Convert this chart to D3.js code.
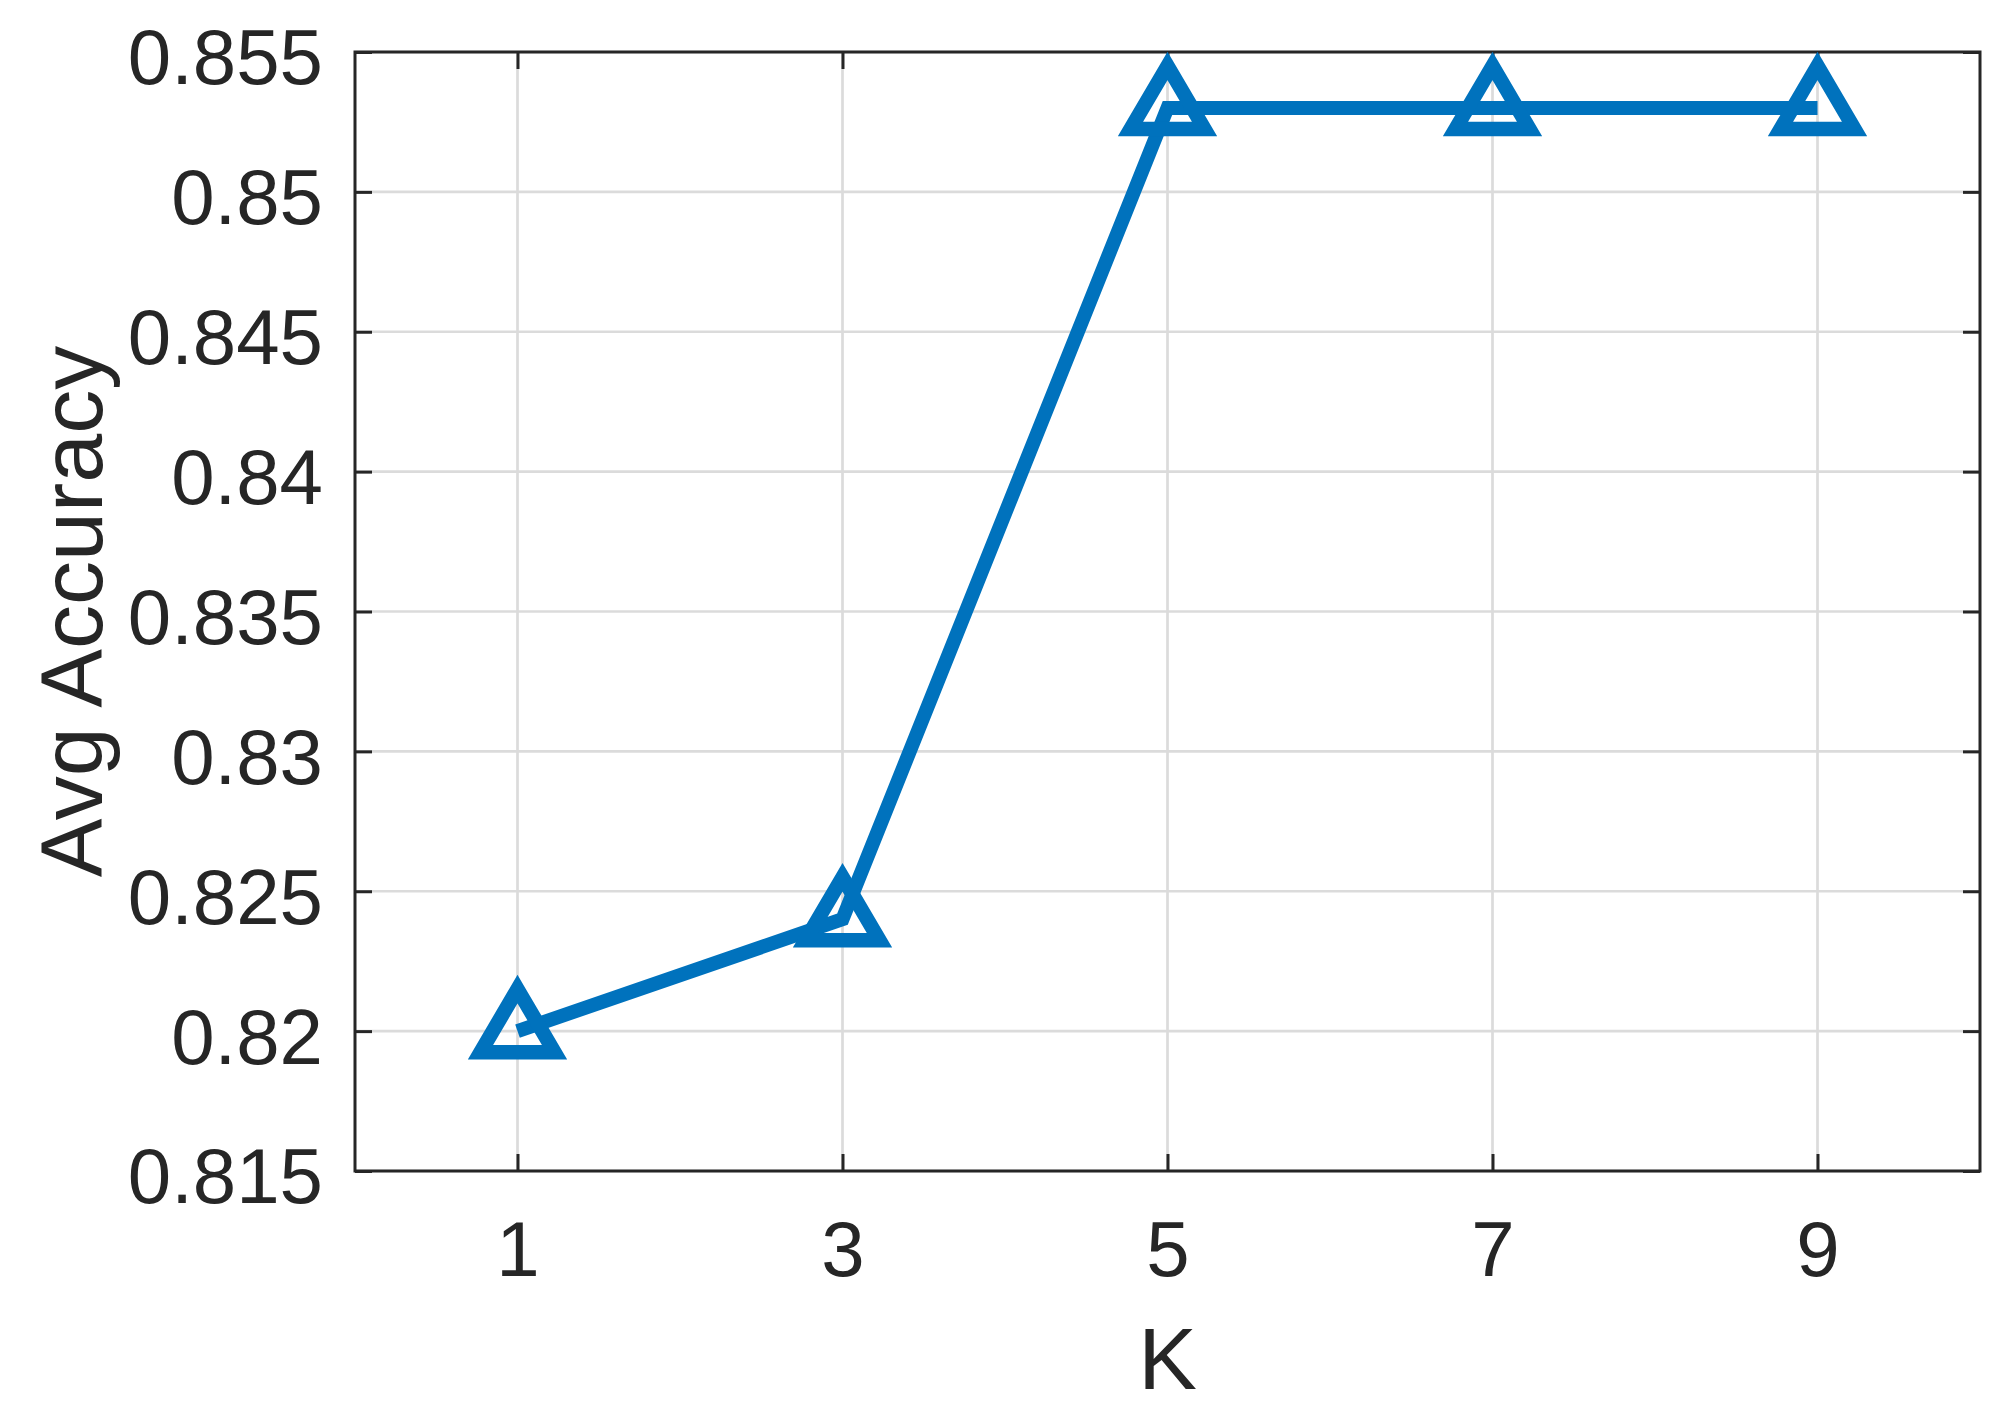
<!DOCTYPE html>
<html>
<head>
<meta charset="utf-8">
<script src="https://cdn.jsdelivr.net/npm/d3@7"></script>
<style>
  body { margin: 0; background: #fff; }
  text { font-family: "Liberation Sans", Arial, sans-serif; fill: #262626; }
</style>
</head>
<body>
<script>
// values
var kValues = [1, 3, 5, 7, 9];
var accValues = [0.8200, 0.8240, 0.8530, 0.8530, 0.8530];

var xTicks = [1, 3, 5, 7, 9];
var yTicks = [0.815, 0.82, 0.825, 0.83, 0.835, 0.84, 0.845, 0.85, 0.855];

var xLabel = "K";
var yLabel = "Avg Accuracy";

// dimensions (window.top is reserved, so plot edges get their own names)
var w = 2006;
var h = 1417;
var plotLeft = 355, plotRight = 1980, plotTop = 52, plotBottom = 1171;
var axisColor = "#262626";
var gridColor = "#dbdbdb";
var lineColor = "#0072BD";
var tickLen = 17;

var xScale = d3.scaleLinear().domain([0, 10]).range([plotLeft, plotRight]);
var yScale = d3.scaleLinear().domain([0.815, 0.855]).range([plotBottom, plotTop]);

var svg = d3.select("body").append("svg")
  .attr("width", w)
  .attr("height", h)
  .style("display", "block");

svg.append("rect").attr("width", w).attr("height", h).attr("fill", "#fff");

// grid
var grid = svg.append("g");
grid.selectAll(".gx")
  .data(xTicks)
  .enter()
  .append("line")
  .attr("x1", function(d) { return xScale(d); })
  .attr("x2", function(d) { return xScale(d); })
  .attr("y1", plotTop)
  .attr("y2", plotBottom)
  .attr("stroke", gridColor)
  .attr("stroke-width", 2.7);

grid.selectAll(".gy")
  .data(yTicks)
  .enter()
  .append("line")
  .attr("x1", plotLeft)
  .attr("x2", plotRight)
  .attr("y1", function(d) { return yScale(d); })
  .attr("y2", function(d) { return yScale(d); })
  .attr("stroke", gridColor)
  .attr("stroke-width", 2.7);

// axes (inward ticks on all four sides)
function fmt(d) { return String(+d.toFixed(3)); }

var xAxis = svg.append("g")
  .attr("transform", "translate(0," + plotBottom + ")")
  .call(d3.axisBottom(xScale).tickValues(xTicks).tickSizeInner(-tickLen).tickSizeOuter(0).tickPadding(50).tickFormat(fmt));

var xAxisTop = svg.append("g")
  .attr("transform", "translate(0," + plotTop + ")")
  .call(d3.axisTop(xScale).tickValues(xTicks).tickSizeInner(-tickLen).tickSizeOuter(0).tickFormat(""));

var yAxis = svg.append("g")
  .attr("transform", "translate(" + plotLeft + ",0)")
  .call(d3.axisLeft(yScale).tickValues(yTicks).tickSizeInner(-tickLen).tickSizeOuter(0).tickPadding(32).tickFormat(fmt));

var yAxisRight = svg.append("g")
  .attr("transform", "translate(" + plotRight + ",0)")
  .call(d3.axisRight(yScale).tickValues(yTicks).tickSizeInner(-tickLen).tickSizeOuter(0).tickFormat(""));

svg.selectAll(".domain").remove();
svg.selectAll(".tick line").attr("stroke", axisColor).attr("stroke-width", 3);
svg.selectAll(".tick text")
  .attr("fill", axisColor)
  .style("font-size", "78px")
  .style("font-family", "'Liberation Sans', Arial, sans-serif");
yAxis.selectAll(".tick text").attr("dy", "0.41em");

// box
svg.append("rect")
  .attr("x", plotLeft)
  .attr("y", plotTop)
  .attr("width", plotRight - plotLeft)
  .attr("height", plotBottom - plotTop)
  .attr("fill", "none")
  .attr("stroke", axisColor)
  .attr("stroke-width", 3);

// axis labels
svg.append("text")
  .attr("x", (plotLeft + plotRight) / 2)
  .attr("y", 1389)
  .attr("text-anchor", "middle")
  .style("font-size", "88px")
  .text(xLabel);

svg.append("text")
  .attr("transform", "translate(102," + (plotTop + plotBottom) / 2 + ") rotate(-90)")
  .attr("text-anchor", "middle")
  .style("font-size", "88px")
  .text(yLabel);

// data line
var points = kValues.map(function(k, i) { return { k: k, acc: accValues[i] }; });

var line = d3.line()
  .x(function(d) { return xScale(d.k); })
  .y(function(d) { return yScale(d.acc); });

svg.append("path")
  .datum(points)
  .attr("d", line)
  .attr("fill", "none")
  .attr("stroke", lineColor)
  .attr("stroke-width", 14);

// triangle markers, centred on their centroid
function triangle(cx, cy) {
  return "M" + cx + "," + (cy - 42) +
    "L" + (cx + 37) + "," + (cy + 21) +
    "L" + (cx - 37) + "," + (cy + 21) + "Z";
}

svg.selectAll(".marker")
  .data(points)
  .enter()
  .append("path")
  .attr("class", "marker")
  .attr("d", function(d) { return triangle(xScale(d.k), yScale(d.acc)); })
  .attr("fill", "none")
  .attr("stroke", lineColor)
  .attr("stroke-width", 14.5)
  .attr("stroke-linejoin", "miter");
</script>
</body>
</html>
